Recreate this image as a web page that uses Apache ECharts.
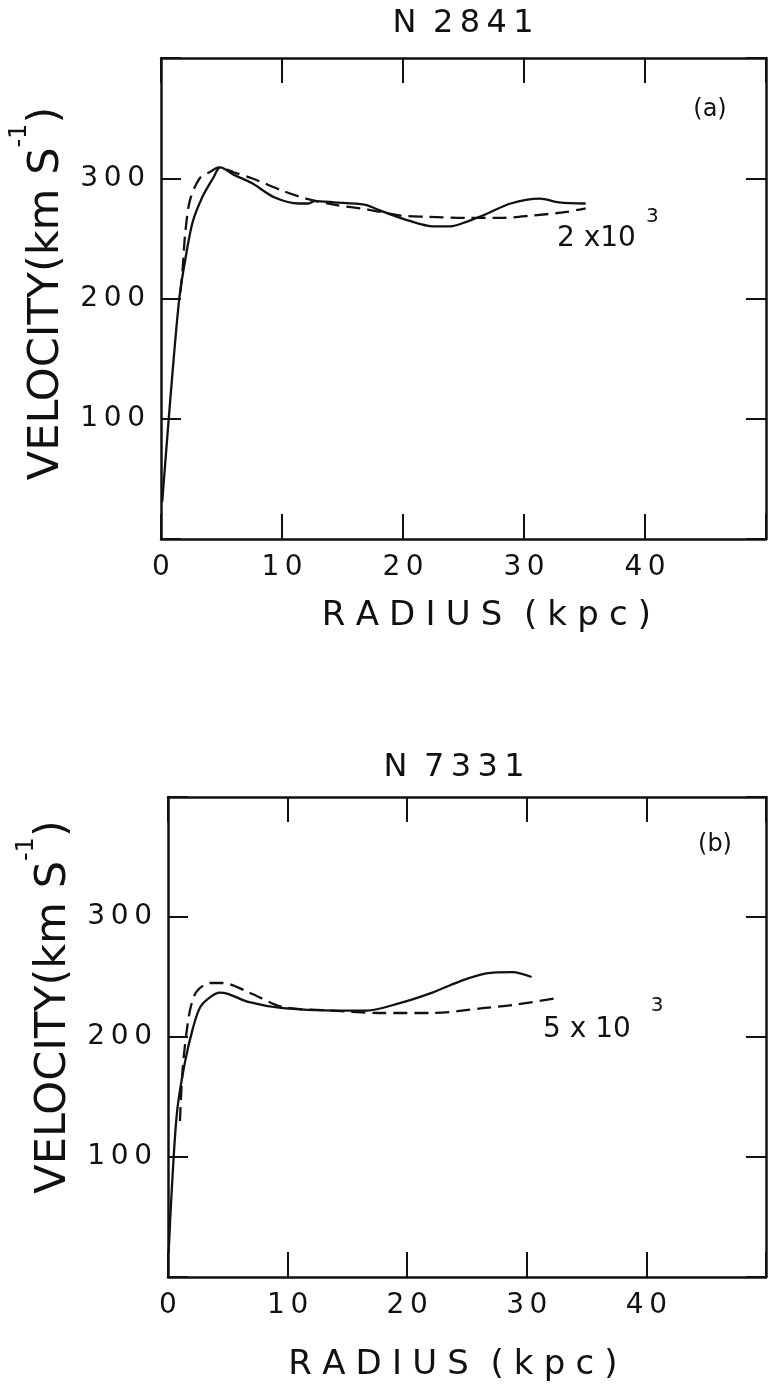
<!DOCTYPE html>
<html lang="en">
<head>
    <meta charset="UTF-8">
    <title>N 2841 / N 7331 rotation curves</title>
    <script src="https://cdn.jsdelivr.net/npm/echarts@6/dist/echarts.min.js"></script>
    <style>
        html, body { margin: 0; padding: 0; background: #fff; }
        #main { width: 769px; height: 1385px; }
    </style>
</head>
<body>
<div id="main"></div>
<script type="text/javascript">
    // ---- N 2841, panel (a) ----
    var rA_solid = [0.1, 0.8, 1.5, 2.0, 2.6, 3.4, 4.3, 4.9, 6.0, 7.5, 9.4, 11.4, 12.2, 12.7, 14.3, 16.8, 18.4, 20.4, 22.5, 23.9, 25.3, 26.6, 28.9, 31.3, 32.9, 35.1];
    var vA_solid = [31, 120, 199, 232, 263, 284, 300, 309, 303, 296, 284, 279, 279, 281, 280, 278, 272, 265, 260, 260, 264, 269, 279, 283, 280, 279];
    var rA_dash = [1.6, 1.8, 2.0, 2.4, 3.2, 4.0, 4.8, 6.0, 7.5, 10.2, 12.0, 14.3, 17.1, 19.8, 22.0, 25.3, 28.0, 30.7, 33.5, 35.1];
    var vA_dash = [205, 226, 254, 282, 300, 305, 309, 305, 300, 289, 283, 278, 274, 269, 268, 267, 267, 269, 272, 275];

    // ---- N 7331, panel (b) ----
    var rB_solid = [0.05, 0.3, 0.75, 1.4, 2.1, 2.7, 3.5, 4.3, 5.0, 6.8, 9.6, 13.8, 16.6, 19.3, 22.1, 24.3, 26.6, 28.8, 30.4];
    var vB_solid = [20, 70, 137, 178, 208, 225, 233, 237, 236, 229, 224, 222, 222, 228, 237, 246, 253, 254, 250];
    var rB_dash = [1.0, 1.2, 1.5, 1.9, 2.4, 3.5, 4.6, 6.8, 9.6, 13.8, 17.9, 22.1, 26.3, 29.1, 32.8];
    var vB_dash = [130, 170, 200, 225, 238, 245, 245, 237, 225, 222, 220, 220, 224, 227, 233];

    var xTicks = [0, 10, 20, 30, 40];
    var yTicks = [100, 200, 300];

    var FONT = 'DejaVu Sans';
    var INK = '#111';

    function spaced(s, sep) {
        return String(s).split('').join(sep || '\u2009');
    }
    function pairs(xs, ys) {
        return xs.map(function (x, i) { return [x, ys[i]]; });
    }

    var chartDom = document.getElementById('main');
    var myChart = echarts.init(chartDom);

    var radiusName = spaced('RADIUS', '\u2009\u200A') + '  (\u2009\u200A' + spaced('kpc)', '\u2009\u200A');

    function xAxisFor(grid, pos, nameGap, namePad) {
        return {
            type: 'value', gridIndex: grid, position: pos,
            min: 0, max: 50, interval: 10,
            name: pos === 'bottom' ? radiusName : '',
            nameLocation: 'middle', nameGap: nameGap, nameMoveOverlap: false,
            nameTextStyle: { fontFamily: FONT, fontSize: 34, color: INK, padding: namePad },
            axisLine: { show: true, onZero: false, lineStyle: { color: INK, width: 2.5 } },
            axisTick: { show: true, inside: true, length: 25, lineStyle: { color: INK, width: 2 } },
            axisLabel: {
                show: pos === 'bottom', margin: 15, fontFamily: FONT, fontSize: 28, color: INK,
                formatter: function (v) { return xTicks.indexOf(v) >= 0 ? spaced(v) : ''; }
            },
            splitLine: { show: false }
        };
    }

    function yAxisFor(grid, pos, namePad) {
        return {
            type: 'value', gridIndex: grid, position: pos,
            min: 0, max: 400, interval: 100,
            name: pos === 'left' ? '{t|VELOCITY(km S}{s|-1}{t|)}' : '',
            nameLocation: 'middle', nameGap: 93, nameRotate: 90, nameMoveOverlap: false,
            nameTextStyle: {
                padding: namePad,
                rich: {
                    t: { fontFamily: FONT, fontSize: 43, color: INK, lineHeight: 60, verticalAlign: 'bottom' },
                    s: { fontFamily: FONT, fontSize: 24, color: INK, lineHeight: 24, verticalAlign: 'top' }
                }
            },
            axisLine: { show: true, onZero: false, lineStyle: { color: INK, width: 2.5 } },
            axisTick: { show: true, inside: true, length: 20, lineStyle: { color: INK, width: 2 } },
            axisLabel: {
                show: pos === 'left', margin: 16, fontFamily: FONT, fontSize: 28, color: INK,
                formatter: function (v) { return yTicks.indexOf(v) >= 0 ? spaced(v) : ''; }
            },
            splitLine: { show: false }
        };
    }

    function curve(xi, yi, xs, ys, dashed) {
        return {
            type: 'line', xAxisIndex: xi, yAxisIndex: yi,
            data: pairs(xs, ys),
            showSymbol: false, smooth: 0.3,
            lineStyle: { color: INK, width: 2.3, type: dashed ? [14, 7] : 'solid' }
        };
    }

    // scale-factor label with a raised exponent
    function supLabel(text, x, y, lh) {
        return {
            type: 'text', x: x, y: y,
            style: {
                text: text,
                verticalAlign: 'middle',
                rich: {
                    n: { fontFamily: FONT, fontSize: 28, fill: INK, lineHeight: lh, verticalAlign: 'bottom' },
                    s: { fontFamily: FONT, fontSize: 20, fill: INK, lineHeight: 20, verticalAlign: 'top' }
                }
            }
        };
    }

    function plainText(text, x, y, size) {
        return {
            type: 'text', x: x, y: y,
            style: { text: text, font: size + 'px "' + FONT + '"', fill: INK, align: 'center', verticalAlign: 'middle' }
        };
    }

    var option = {
        animation: false,
        backgroundColor: '#fff',
        grid: [
            { left: 158, top: 58, width: 609, height: 481 },
            { left: 168, top: 797, width: 599, height: 480 }
        ],
        xAxis: [
            xAxisFor(0, 'bottom', 60, [0, 0, 0, 46]),
            xAxisFor(0, 'top', 0, 0),
            xAxisFor(1, 'bottom', 71, [0, 28, 0, 0]),
            xAxisFor(1, 'top', 0, 0)
        ],
        yAxis: [
            yAxisFor(0, 'left', [0, 0, 0, 10]),
            yAxisFor(0, 'right', 0),
            yAxisFor(1, 'left', [0, 0, 0, 60]),
            yAxisFor(1, 'right', 0)
        ],
        series: [
            curve(0, 0, rA_solid, vA_solid, false),
            curve(0, 0, rA_dash, vA_dash, true),
            curve(2, 2, rB_solid, vB_solid, false),
            curve(2, 2, rB_dash, vB_dash, true)
        ],
        graphic: [
            plainText('N\u2009 2\u20098\u20094\u20091', 463, 24, 32),
            plainText('N\u2009 7\u20093\u20093\u20091', 454, 768, 32),
            plainText('(a)', 710, 110, 24),
            plainText('(b)', 715, 845, 24),
            supLabel('{n|2 x10}{s|\u20023}', 557, 230, 46),
            supLabel('{n|5 x 10}{s|\u20033}', 543, 1020, 48)
        ]
    };

    myChart.setOption(option);
</script>
</body>
</html>
